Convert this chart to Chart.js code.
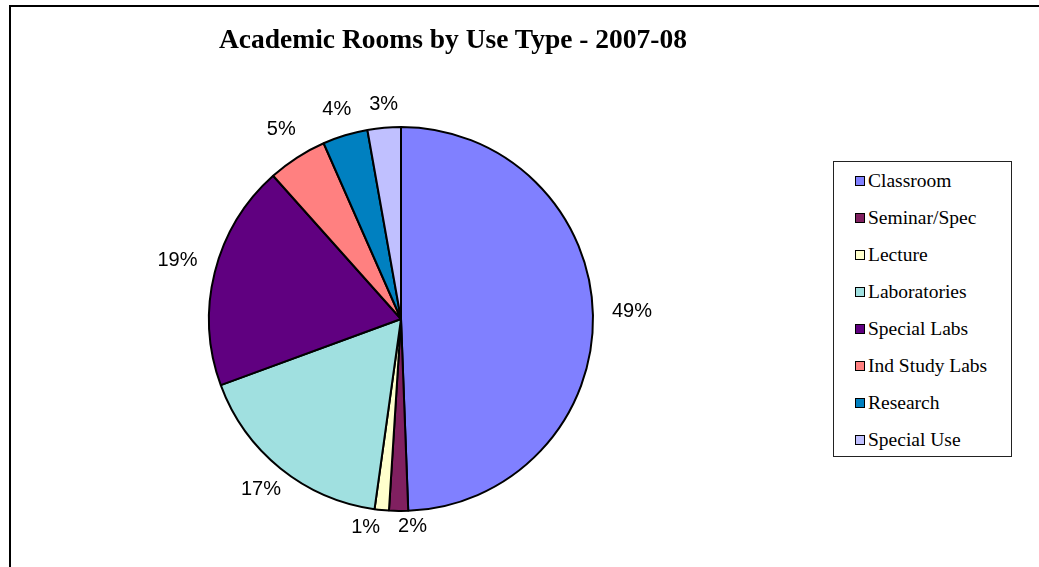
<!DOCTYPE html>
<html>
<head>
<meta charset="utf-8">
<title>Academic Rooms by Use Type - 2007-08</title>
<script src="https://cdn.jsdelivr.net/npm/chart.js@4.4.0/dist/chart.umd.min.js"></script>
<style>
    html, body {
        margin: 0;
        padding: 0;
        background: #fff;
        overflow: hidden;
    }
    #wrap {
        position: relative;
        width: 1039px;
        height: 567px;
    }
    #frame {
        position: absolute;
        left: 9px;
        top: 5px;
        width: 1100px;
        height: 600px;
        border-left: 2px solid #000;
        border-top: 2px solid #000;
    }
    #pie-chart {
        position: absolute;
        left: 0;
        top: 0;
    }
    #chart-title {
        position: absolute;
        left: 0;
        top: 25px;
        width: 906px;
        text-align: center;
        font: bold 27.5px "Liberation Serif", "Times New Roman", serif;
        line-height: 27px;
        color: #000;
    }
    #legend {
        position: absolute;
        left: 833px;
        top: 161px;
        width: 177px;
        height: 294px;
        border: 1px solid #222;
        background: #fff;
        font: 19.5px "Liberation Serif", "Times New Roman", serif;
        color: #000;
    }
    .legend-item {
        display: flex;
        align-items: center;
        height: 37px;
        padding-left: 21px;
        white-space: nowrap;
    }
    .legend-box {
        width: 8px;
        height: 8px;
        border: 1.5px solid #000;
        margin-right: 3px;
        margin-top: 1px;
    }
</style>
</head>
<body>
<div id="wrap">
    <div id="frame"></div>
    <canvas id="pie-chart" width="1039" height="567"></canvas>
    <div id="chart-title">Academic Rooms by Use Type - 2007-08</div>
    <div id="legend"></div>
</div>

<script>
// room use categories, share of academic rooms (%)
const useTypes = [
    "Classroom",
    "Seminar/Spec",
    "Lecture",
    "Laboratories",
    "Special Labs",
    "Ind Study Labs",
    "Research",
    "Special Use"
];
const roomShare = [49.4, 1.6, 1.2, 17.2, 19.0, 5.0, 3.8, 2.8];
const sliceColors = [
    "#8080FF",
    "#802060",
    "#FFFFCC",
    "#A0E0E0",
    "#600080",
    "#FF8080",
    "#0080C0",
    "#C0C0FF"
];

// draws the percent labels just outside each slice
const percentLabels = {
    id: "percentLabels",
    afterDatasetsDraw: function (chart) {
        var ctx = chart.ctx;
        var meta = chart.getDatasetMeta(0);
        var values = chart.data.datasets[0].data;
        var total = values.reduce(function (a, b) { return a + b; }, 0);
        var boxes = [];

        ctx.save();
        ctx.font = '20px "Liberation Sans", Arial, sans-serif';
        ctx.fillStyle = "#000";
        ctx.textAlign = "center";
        ctx.textBaseline = "middle";

        meta.data.forEach(function (arc, i) {
            var p = arc.getProps(["x", "y", "startAngle", "endAngle", "outerRadius"], true);
            var mid = (p.startAngle + p.endAngle) / 2;
            var cx = Math.cos(mid), cy = Math.sin(mid);
            var dist = p.outerRadius + 18 + 21 * Math.abs(cx);
            var text = Math.round(values[i] / total * 100) + "%";
            var w = ctx.measureText(text).width + 18;
            boxes.push({
                text: text,
                x: p.x + cx * dist,
                y: p.y + cy * dist - 3,
                w: w,
                h: 22
            });
        });

        // push apart labels that would overlap (small slices at the bottom)
        for (var i = 0; i < boxes.length; i++) {
            for (var j = i + 1; j < boxes.length; j++) {
                var a = boxes[i], b = boxes[j];
                var need = (a.w + b.w) / 2;
                var dx = b.x - a.x;
                if (Math.abs(a.y - b.y) < (a.h + b.h) / 2 && Math.abs(dx) < need) {
                    var shift = (need - Math.abs(dx)) / 2;
                    var dir = dx >= 0 ? 1 : -1;
                    a.x -= dir * shift;
                    b.x += dir * shift;
                }
            }
        }

        boxes.forEach(function (bx) {
            ctx.fillText(bx.text, bx.x, bx.y);
        });
        ctx.restore();
    }
};

function buildLegend(chart) {
    var target = document.getElementById("legend");
    var items = chart.options.plugins.legend.labels.generateLabels(chart);
    items.forEach(function (item) {
        var row = document.createElement("div");
        row.className = "legend-item";
        var box = document.createElement("span");
        box.className = "legend-box";
        box.style.background = item.fillStyle;
        var label = document.createElement("span");
        label.textContent = item.text;
        row.appendChild(box);
        row.appendChild(label);
        target.appendChild(row);
    });
}

function getPieChart() {
    var Target = document.getElementById("pie-chart");

    const ChartData = {
        labels: useTypes,
        datasets: [{
            label: "Academic Rooms",
            data: roomShare,
            backgroundColor: sliceColors,
            borderColor: "#000",
            borderWidth: 2,
            hoverOffset: 0
        }]
    };

    var Charts = new Chart(Target, {
        type: "pie",
        data: ChartData,
        options: {
            responsive: false,
            animation: false,
            layout: {
                padding: { left: 208, top: 126, right: 445, bottom: 55 }
            },
            plugins: {
                legend: { display: false },
                title: { display: false },
                tooltip: { enabled: false }
            }
        },
        plugins: [percentLabels]
    });
    return Charts;
}

document.addEventListener("DOMContentLoaded", function () {
    var chart = getPieChart();
    buildLegend(chart);
});
</script>
</body>
</html>
